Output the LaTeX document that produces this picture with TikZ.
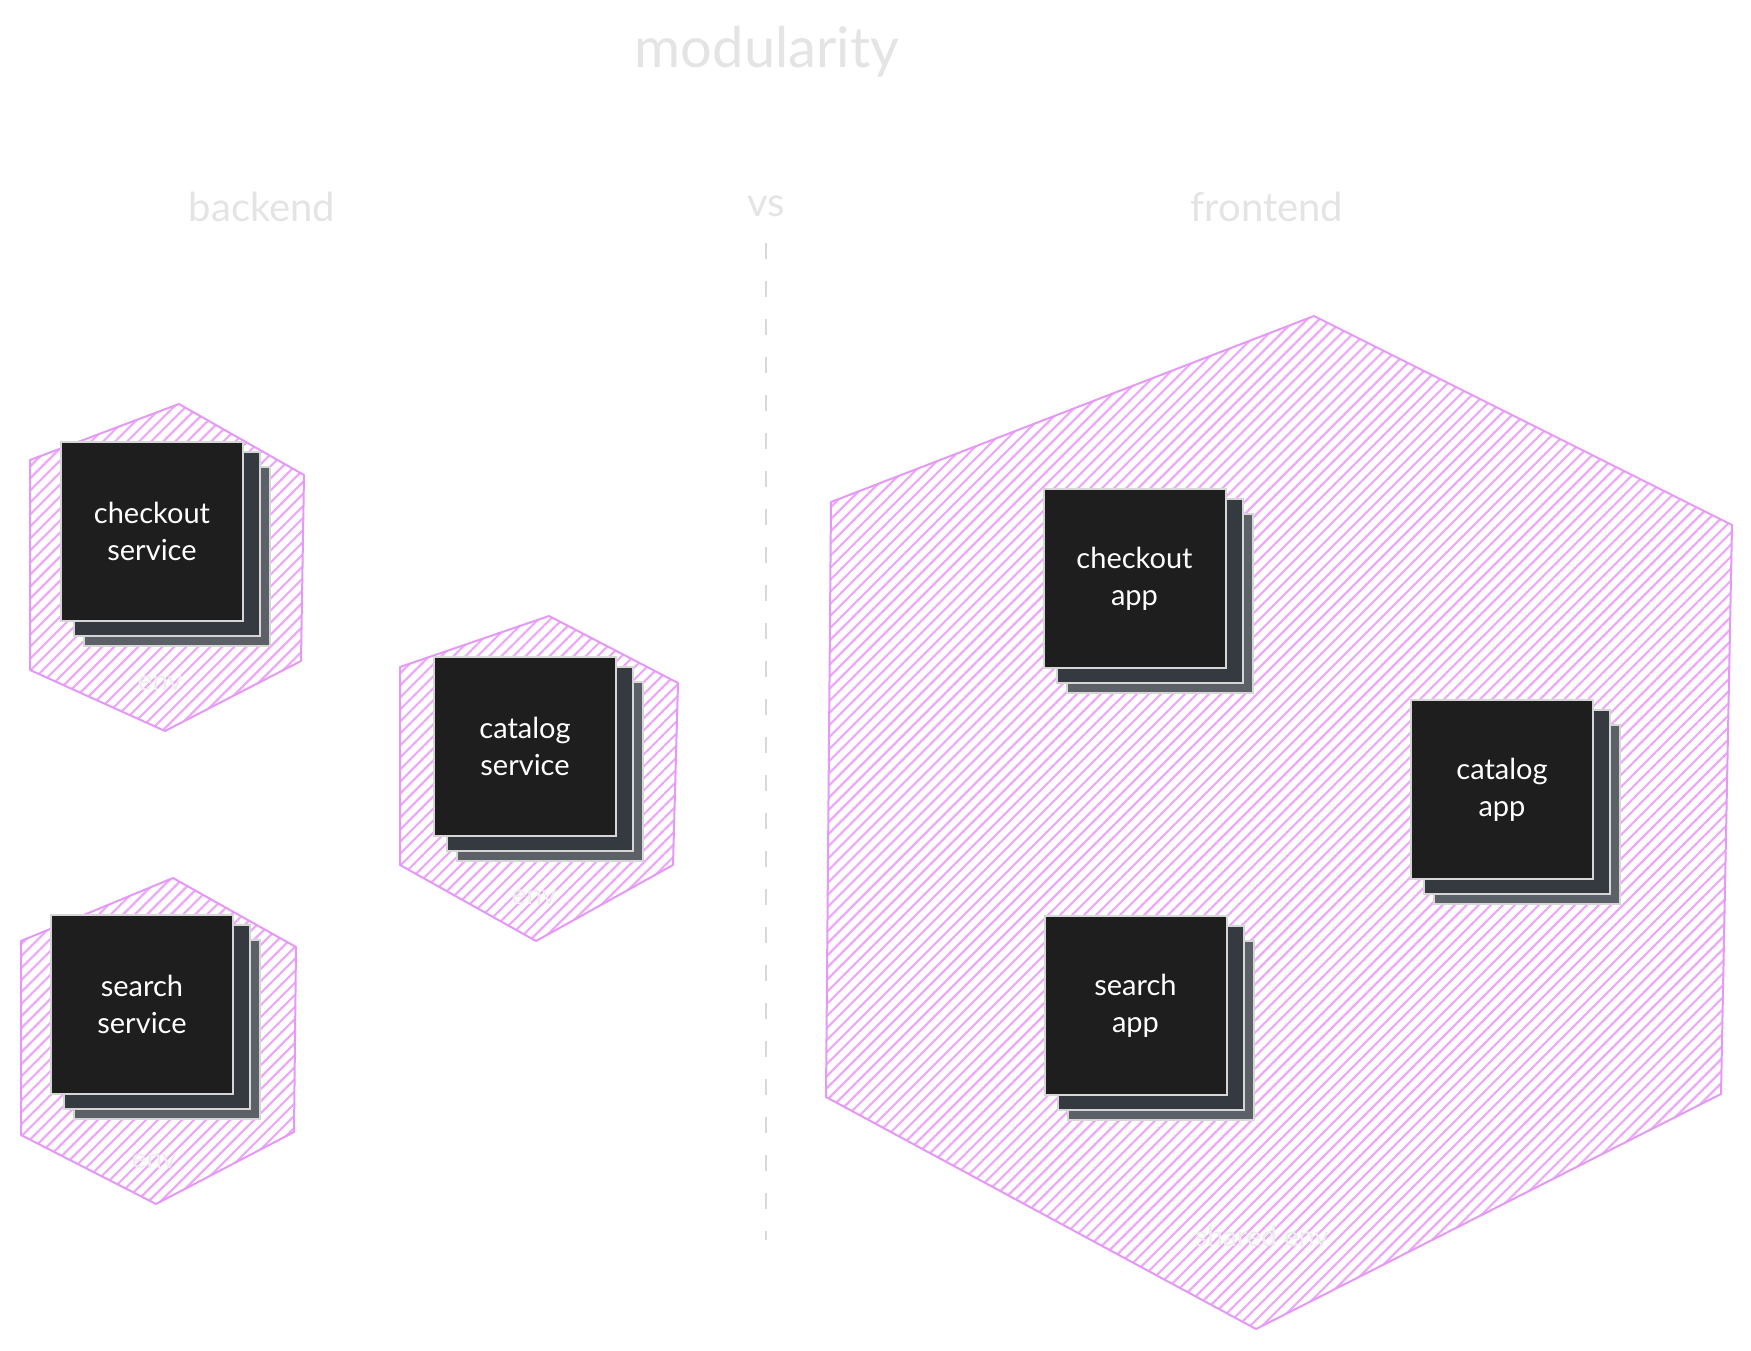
\documentclass[tikz,border=0pt]{standalone}
\usepackage{fontspec}
\setmainfont{Lato}
\usetikzlibrary{patterns.meta}
\definecolor{hexpink}{HTML}{E599F7}
\definecolor{hatch}{HTML}{EDA8F9}
\definecolor{faint}{HTML}{E4E4E4}
\definecolor{fainter}{HTML}{EEEEEE}
\definecolor{dashgray}{HTML}{D8D8D8}
\definecolor{boxfront}{HTML}{1E1E1E}
\definecolor{boxmid}{HTML}{343A40}
\definecolor{boxback}{HTML}{5C6168}
\definecolor{boxedge}{HTML}{D6D6D6}
\tikzset{
  hexshape/.style={draw=hexpink, line width=2pt, line join=round,
    pattern={Lines[angle=45,distance=8.5pt,line width=2.2pt]}, pattern color=hatch},
  frontbox/.style={draw=boxedge, fill=boxfront, line width=2pt,
    minimum width=182pt, minimum height=179pt, text=white,
    font=\fontsize{29}{37}\selectfont, align=center, inner sep=0pt, outer sep=0pt},
  midlayer/.style={draw=boxedge, fill=boxmid, line width=2pt},
  backlayer/.style={draw=boxedge, fill=boxback, line width=2pt},
  titlelabel/.style={text=faint, font=\fontsize{56}{60}\selectfont},
  sidelabel/.style={text=faint, font=\fontsize{40}{44}\selectfont},
  envlabel/.style={text=fainter, font=\fontsize{28}{32}\selectfont},
  divider/.style={draw=dashgray, line width=2pt, dash pattern=on 16pt off 22pt},
}
\newcommand\stackbox[4]{%
  \draw[backlayer] ({#2-68},{#3-64.5}) rectangle ({#2+118},{#3+114.5});
  \draw[midlayer] ({#2-78},{#3-79.5}) rectangle ({#2+108},{#3+104.5});
  \node[frontbox] (#1) at (#2,#3) {#4};
}
\begin{document}
\begin{tikzpicture}[x=1pt,y=-1pt]
\useasboundingbox[fill=white] (0,0) rectangle (1751,1350);

% titles
\node[titlelabel] (title) at (767,52) {modularity};
\node[sidelabel] (backend) at (262,207) {backend};
\node[sidelabel] (vs) at (766,206) {vs};
\node[sidelabel] (frontend) at (1267,207) {frontend};

% divider
\coordinate (divtop) at (766,243);
\coordinate (divbot) at (766,1240);
\draw[divider] (divtop) -- (divbot);

% backend hexagons
\draw[hexshape] (179,404) -- (304,475) -- (301,661) -- (165,731) -- (30,670) -- (30,460) -- cycle;
\draw[hexshape] (549,616) -- (678,683) -- (673,865) -- (536,941) -- (400,865) -- (400,667) -- cycle;
\draw[hexshape] (173,878) -- (296,947) -- (294,1132) -- (156,1204) -- (21,1135) -- (21,941) -- cycle;

% frontend hexagon
\draw[hexshape] (1314,316) -- (1732,525) -- (1721,1094) -- (1256,1329) -- (826,1097) -- (831,502) -- cycle;

% env labels
\node[envlabel] (env1) at (160,683) {env};
\node[envlabel] (env2) at (534,897) {env};
\node[envlabel] (env3) at (154,1161) {env};
\node[envlabel] (env4) at (1262,1236) {shared env};

% boxes
\stackbox{cs}{152}{531}{checkout\\service}
\stackbox{cats}{525}{746.5}{catalog\\service}
\stackbox{ss}{142}{1004}{search\\service}
\stackbox{ca}{1134.5}{578.5}{checkout\\app}
\stackbox{cata}{1502}{789.5}{catalog\\app}
\stackbox{sa}{1135.5}{1005.5}{search\\app}
\end{tikzpicture}
\end{document}
